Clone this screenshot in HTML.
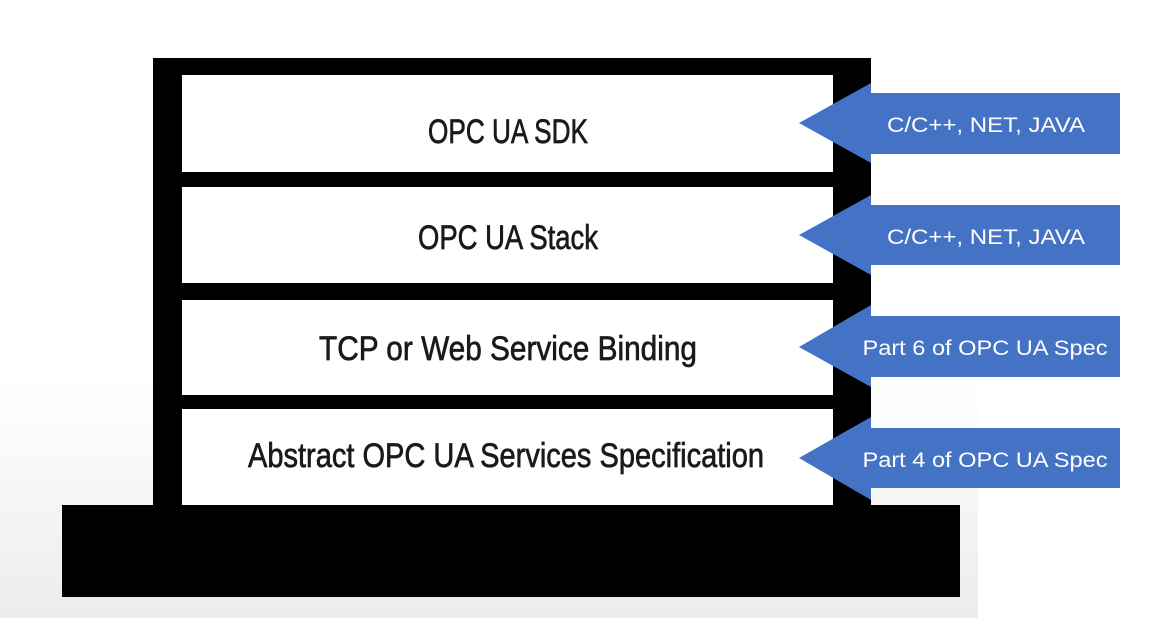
<!DOCTYPE html>
<html><head><meta charset="utf-8"><style>
html,body{margin:0;padding:0;background:#fff;}
svg{display:block;}
</style></head><body>
<svg width="1162" height="618" viewBox="0 0 1162 618" xmlns="http://www.w3.org/2000/svg">
<defs>
<linearGradient id="bg" x1="0" y1="0" x2="0" y2="1">
<stop offset="0" stop-color="#fff"/><stop offset="1" stop-color="#ececec"/>
</linearGradient>
</defs>
<rect x="0" y="380" width="978" height="238" fill="url(#bg)"/>
<rect x="153" y="58" width="718" height="450" fill="#000"/>
<rect x="182" y="75" width="651" height="97" fill="#fff"/>
<rect x="182" y="187" width="651" height="96" fill="#fff"/>
<rect x="182" y="300" width="651" height="95" fill="#fff"/>
<rect x="182" y="409" width="651" height="96" fill="#fff"/>
<rect x="62" y="505" width="898" height="92" fill="#000"/>
<g font-family="Liberation Sans, sans-serif" font-size="34" fill="#1a1a1a" stroke="#1a1a1a" stroke-width="0.7" text-anchor="middle">
<text x="508" y="143" textLength="160" lengthAdjust="spacingAndGlyphs">OPC UA SDK</text>
<text x="508" y="249" textLength="180" lengthAdjust="spacingAndGlyphs">OPC UA Stack</text>
<text x="508" y="360" textLength="378" lengthAdjust="spacingAndGlyphs">TCP or Web Service Binding</text>
<text x="506" y="467" textLength="516" lengthAdjust="spacingAndGlyphs">Abstract OPC UA Services Specification</text>
</g>
<g fill="#4472C4">
<polygon points="799,123 871,83 871,93 1120,93 1120,154 871,154 871,163"/>
<polygon points="799,235 871,195 871,205 1120,205 1120,265 871,265 871,275"/>
<polygon points="799,347 871,305 871,316 1120,316 1120,377 871,377 871,387"/>
<polygon points="799,458 871,417 871,428 1120,428 1120,488 871,488 871,500"/>
</g>
<g font-family="Liberation Sans, sans-serif" font-size="21" fill="#fff" text-anchor="middle">
<text x="986" y="132" textLength="198" lengthAdjust="spacingAndGlyphs">C/C++, NET, JAVA</text>
<text x="986" y="244" textLength="198" lengthAdjust="spacingAndGlyphs">C/C++, NET, JAVA</text>
<text x="985" y="355" textLength="245" lengthAdjust="spacingAndGlyphs">Part 6 of OPC UA Spec</text>
<text x="985" y="467" textLength="245" lengthAdjust="spacingAndGlyphs">Part 4 of OPC UA Spec</text>
</g>
</svg>
</body></html>
